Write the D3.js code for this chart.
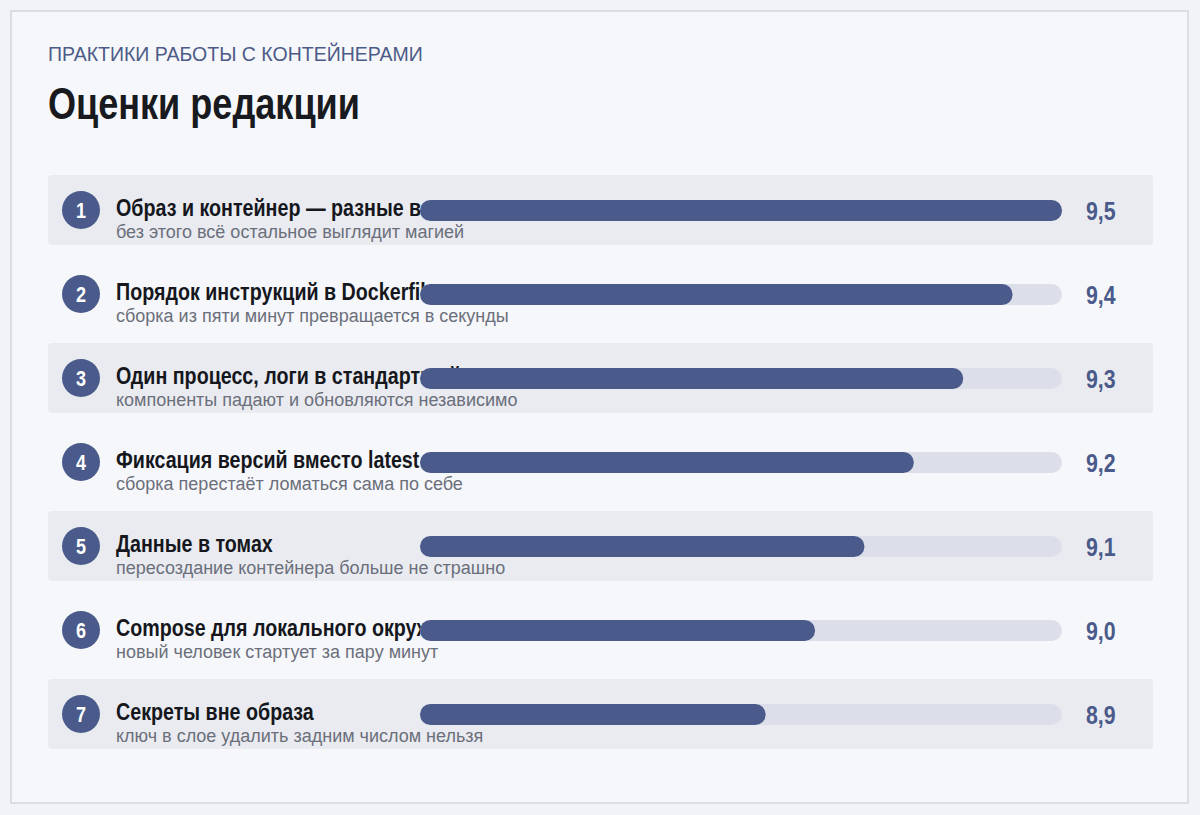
<!DOCTYPE html>
<html lang="ru">
<head>
<meta charset="utf-8">
<script src="https://cdn.jsdelivr.net/npm/d3@7"></script>
<style>
  html, body { margin: 0; padding: 0; background: #f2f3f6; }
  svg { display: block; }
</style>
</head>
<body>
<svg id="chart" width="1200" height="815"></svg>
<script>
const kicker = "ПРАКТИКИ РАБОТЫ С КОНТЕЙНЕРАМИ";
const title = "Оценки редакции";
const labels = [
  "Образ и контейнер — разные вещи",
  "Порядок инструкций в Dockerfile",
  "Один процесс, логи в стандартный вывод",
  "Фиксация версий вместо latest",
  "Данные в томах",
  "Compose для локального окружения",
  "Секреты вне образа"
];
const notes = [
  "без этого всё остальное выглядит магией",
  "сборка из пяти минут превращается в секунды",
  "компоненты падают и обновляются независимо",
  "сборка перестаёт ломаться сама по себе",
  "пересоздание контейнера больше не страшно",
  "новый человек стартует за пару минут",
  "ключ в слое удалить задним числом нельзя"
];
const scores = [9.5, 9.4, 9.3, 9.2, 9.1, 9.0, 8.9];
const scoreDomain = [8.2, 9.5];

const sans = "'Liberation Sans', Arial, sans-serif";
const accent = "#4a5a8a";
const squeeze = 0.82;

const svg = d3.select("#chart");

svg.append("rect").attr("x", 11).attr("y", 11).attr("width", 1177).attr("height", 792)
  .attr("fill", "#f6f7fa").attr("stroke", "#d3d6de").attr("stroke-width", 1.5);

svg.append("text").attr("x", 48).attr("y", 61).text(kicker)
  .attr("font-family", sans).attr("font-size", 19.5).attr("fill", "#4d5b88");

svg.append("text").attr("transform", `translate(48,119) scale(${squeeze},1)`).text(title)
  .attr("font-family", sans).attr("font-weight", "bold").attr("font-size", 44).attr("fill", "#181a20");

const idx = d3.range(scores.length);
const y = d3.scalePoint().domain(idx).range([210, 210 + 84 * (scores.length - 1)]);
const x = d3.scaleLinear().domain(scoreDomain).range([420, 1062]);

const rows = svg.append("g").selectAll("g").data(idx).join("g")
  .attr("transform", d => `translate(0,${y(d)})`);

rows.filter(d => d % 2 === 0).append("rect")
  .attr("x", 48).attr("y", -35).attr("width", 1105).attr("height", 70).attr("rx", 4)
  .attr("fill", "#e9ebf0");

rows.append("circle").attr("cx", 81).attr("cy", 0).attr("r", 19).attr("fill", accent);
rows.append("text").attr("transform", `translate(81,8) scale(${squeeze},1)`).attr("text-anchor", "middle")
  .text(d => d + 1)
  .attr("font-family", sans).attr("font-weight", "bold").attr("font-size", 22).attr("fill", "#ffffff");

rows.append("text").attr("transform", `translate(116,6) scale(${squeeze},1)`).text(d => labels[d])
  .attr("font-family", sans).attr("font-weight", "bold").attr("font-size", 24).attr("fill", "#15171d");

rows.append("text").attr("x", 116).attr("y", 28).text(d => notes[d])
  .attr("font-family", sans).attr("font-size", 18).attr("fill", "#6b6f7b");

rows.append("rect").attr("x", x(scoreDomain[0])).attr("y", -10)
  .attr("width", x(scoreDomain[1]) - x(scoreDomain[0])).attr("height", 21).attr("rx", 10.5)
  .attr("fill", "#dcdfe9");

rows.append("rect").attr("x", x(scoreDomain[0])).attr("y", -10)
  .attr("width", d => x(scores[d]) - x(scoreDomain[0])).attr("height", 21).attr("rx", 10.5)
  .attr("fill", accent);

rows.append("text").attr("transform", `translate(1086,10) scale(${squeeze},1)`)
  .text(d => d3.format(".1f")(scores[d]).replace(".", ","))
  .attr("font-family", sans).attr("font-weight", "bold").attr("font-size", 26).attr("fill", accent);
</script>
</body>
</html>
